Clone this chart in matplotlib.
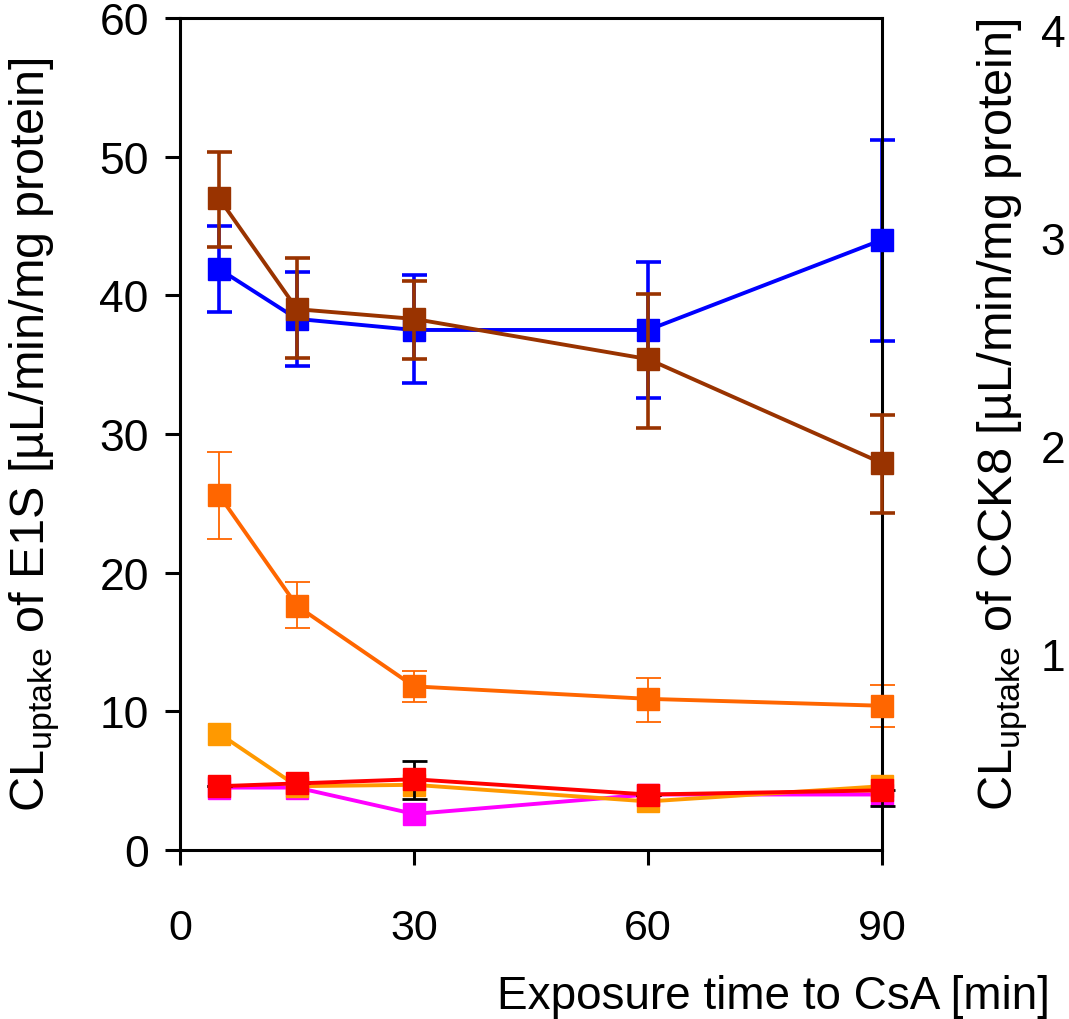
import matplotlib
matplotlib.use('Agg')
import matplotlib.pyplot as plt
import numpy as np

plt.rcParams['font.family'] = ['Liberation Sans', 'DejaVu Sans']
plt.rcParams['mathtext.fontset'] = 'custom'
plt.rcParams['mathtext.rm'] = 'Liberation Sans'

# exposure times [min]
t = [5, 15, 30, 60, 90]

# mean values and error bar ends (left-axis units)
blue = [41.9, 38.3, 37.5, 37.5, 44.0]
blue_hi = [45.0, 41.7, 41.5, 42.4, 51.2]
blue_lo = [38.8, 34.9, 33.7, 32.6, 36.7]

brown = [47.0, 39.0, 38.3, 35.4, 27.9]
brown_hi = [50.3, 42.7, 41.0, 40.1, 31.4]
brown_lo = [43.5, 35.5, 35.4, 30.4, 24.3]

dorange = [25.6, 17.6, 11.8, 10.9, 10.4]
dorange_hi = [28.7, 19.3, 12.9, 12.4, 11.9]
dorange_lo = [22.4, 16.0, 10.7, 9.2, 8.9]

lorange = [8.4, 4.6, 4.7, 3.5, 4.6]
red = [4.6, 4.8, 5.1, 4.0, 4.3]
red_hi = [4.6, 4.8, 6.4, 4.0, 4.3]
red_lo = [4.6, 4.8, 3.7, 4.0, 3.2]
magenta = [4.5, 4.5, 2.6, 4.0, 4.0]

xticks = [0, 30, 60, 90]
yticks = [0, 10, 20, 30, 40, 50, 60]
rticks = [1, 2, 3, 4]

fig = plt.figure(figsize=(10.69, 10.2), dpi=100)
ax = fig.add_axes([0.1684, 0.1657, 0.6567, 0.8157])


def err(m, hi, lo):
    m = np.array(m); hi = np.array(hi); lo = np.array(lo)
    return [m - lo, hi - m]


def series(y, c, e=None, ecol=None, elw=2.6, cap=9, z=3):
    ax.plot(t, y, color=c, lw=2.8, marker='s', ms=15.5, mec=c, mfc=c,
            clip_on=False, zorder=z)
    if e is not None:
        ax.errorbar(t, y, yerr=e, fmt='none', ecolor=ecol or c, elinewidth=elw,
                    capsize=cap, capthick=elw, clip_on=False, zorder=z - 0.5)


series(blue, '#0000FF', err(blue, blue_hi, blue_lo), z=3)
series(brown, '#993300', err(brown, brown_hi, brown_lo), z=4)
series(dorange, '#FF6600', err(dorange, dorange_hi, dorange_lo), elw=1.3, z=3)
series(magenta, '#FF00FF', z=5)
series(lorange, '#FF9900', z=6)
series(red, '#FF0000', err(red, red_hi, red_lo), ecol='black', elw=2.0, z=7)

ax.set_xlim(0, 90)
ax.set_ylim(0, 60)
ax.set_xticks(xticks)
ax.set_yticks(yticks)
for s in ax.spines.values():
    s.set_linewidth(2.2)
ax.tick_params(axis='both', direction='out', length=10.5, width=2.2)
ax.tick_params(axis='y', pad=12, labelsize=32)
ax.tick_params(axis='x', pad=31, labelsize=31)

fig.text(35 / 1069, 1 - 435 / 1020,
         r'CL$_{\mathregular{uptake}}$ of E1S [µL/min/mg protein]',
         rotation=90, ha='center', va='center', fontsize=35)

# right axis (CCK8), labels only
ax2 = ax.twinx()
ax2.set_ylim(0.058, 4.06)
ax2.set_yticks(rticks)
ax2.spines['right'].set_position(('axes', 1.222))
for k in ['top', 'left', 'bottom', 'right']:
    ax2.spines[k].set_visible(False)
ax2.tick_params(axis='y', length=0, pad=2, labelsize=32)

fig.text(1003 / 1069, 1 - 415 / 1020,
         r'CL$_{\mathregular{uptake}}$ of CCK8 [µL/min/mg protein]',
         rotation=90, ha='center', va='center', fontsize=35)

fig.text(1050 / 1069, 1 - 997 / 1020, 'Exposure time to CsA [min]',
         ha='right', va='center', fontsize=33)

fig.savefig('out.png', dpi=100)
